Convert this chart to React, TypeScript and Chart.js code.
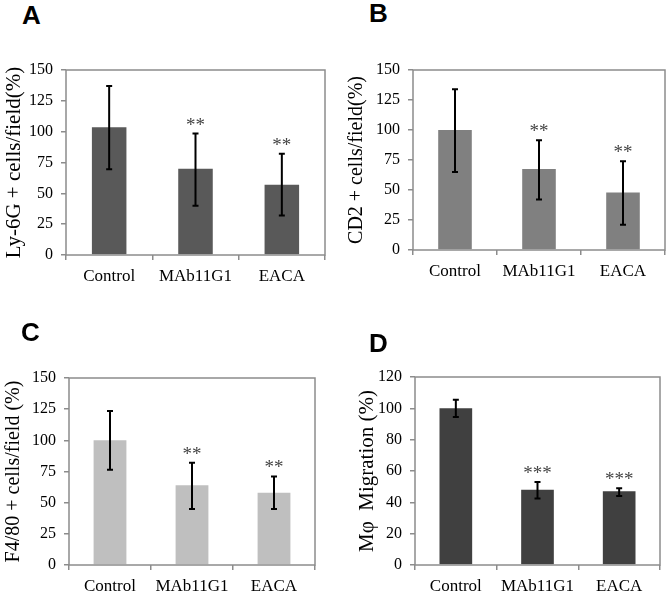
import React, { useEffect, useRef } from "react";
import { Chart, registerables } from "chart.js";
Chart.register(...registerables);

const categories = ["Control", "MAb11G1", "EACA"];

const valuesA = [103.5, 70, 57];
const lowA = [69.5, 40, 32];
const highA = [137, 98.5, 82];
const starsA = ["", "**", "**"];

const valuesB = [100, 67.5, 48];
const lowB = [65, 42, 21];
const highB = [134, 91.5, 74];
const starsB = ["", "**", "**"];

const valuesC = [100, 64, 58];
const lowC = [76.5, 45, 45];
const highC = [123.5, 82, 71];
const starsC = ["", "**", "**"];

const valuesD = [100, 48, 47];
const lowD = [94.5, 42.5, 44];
const highD = [105.5, 53, 49];
const starsD = ["", "***", "***"];

const SERIF = "'Liberation Serif', 'Times New Roman', serif";
const AXIS = "#8c8c8c";

const overlay = {
  id: "overlay",
  afterDatasetsDraw(chart: any, _args: any, opts: any) {
    const { ctx, chartArea, scales } = chart;
    const y = scales.y;
    ctx.save();
    ctx.strokeStyle = AXIS;
    ctx.lineWidth = 1.5;
    ctx.strokeRect(chartArea.left, chartArea.top, chartArea.width, chartArea.height);
    const meta = chart.getDatasetMeta(0);
    (opts.low as number[]).forEach((lo, i) => {
      const px = meta.data[i].x;
      const yl = y.getPixelForValue(lo);
      const yh = y.getPixelForValue(opts.high[i]);
      ctx.strokeStyle = "#000";
      ctx.lineWidth = 2;
      ctx.beginPath();
      ctx.moveTo(px, yl);
      ctx.lineTo(px, yh);
      ctx.moveTo(px - 3, yl);
      ctx.lineTo(px + 3, yl);
      ctx.moveTo(px - 3, yh);
      ctx.lineTo(px + 3, yh);
      ctx.stroke();
      const s = opts.stars[i];
      if (s) {
        ctx.fillStyle = "#444";
        ctx.font = `19px ${SERIF}`;
        ctx.textAlign = "center";
        ctx.textBaseline = "alphabetic";
        ctx.fillText(s, px, yh - 3);
      }
    });
    ctx.restore();
  },
};

type Panel = {
  letter: string;
  values: number[];
  low: number[];
  high: number[];
  stars: string[];
  color: string;
  title: string;
  titleSize: number;
  max: number;
  step: number;
  canvas: { left: number; top: number; w: number; h: number };
  area: { left: number; right: number; top: number; bottom: number };
  letterPos: { left: number; top: number };
};

const panels: Panel[] = [
  {
    letter: "A", values: valuesA, low: lowA, high: highA, stars: starsA, color: "#595959",
    title: "Ly-6G + cells/field(%)", titleSize: 21, max: 150, step: 25,
    canvas: { left: 0, top: 40, w: 335, h: 260 },
    area: { left: 66, right: 325, top: 70, bottom: 255 },
    letterPos: { left: 22, top: 2 },
  },
  {
    letter: "B", values: valuesB, low: lowB, high: highB, stars: starsB, color: "#808080",
    title: "CD2 + cells/field(%)", titleSize: 20, max: 150, step: 25,
    canvas: { left: 343, top: 40, w: 327, h: 255 },
    area: { left: 413, right: 665, top: 70, bottom: 250 },
    letterPos: { left: 369, top: 0 },
  },
  {
    letter: "C", values: valuesC, low: lowC, high: highC, stars: starsC, color: "#bfbfbf",
    title: "F4/80 + cells/field (%)", titleSize: 20, max: 150, step: 25,
    canvas: { left: 0, top: 345, w: 335, h: 249 },
    area: { left: 69, right: 315, top: 378, bottom: 565 },
    letterPos: { left: 21, top: 319 },
  },
  {
    letter: "D", values: valuesD, low: lowD, high: highD, stars: starsD, color: "#404040",
    title: "Mφ  Migration (%)", titleSize: 21, max: 120, step: 20,
    canvas: { left: 353, top: 345, w: 317, h: 249 },
    area: { left: 415, right: 660, top: 377, bottom: 565 },
    letterPos: { left: 369, top: 330 },
  },
];

function PanelChart({ p }: { p: Panel }) {
  const ref = useRef<HTMLCanvasElement>(null);
  useEffect(() => {
    const c = p.canvas;
    const a = p.area;
    const chart = new Chart(ref.current!, {
      type: "bar",
      data: {
        labels: categories,
        datasets: [
          {
            data: p.values,
            backgroundColor: p.color,
            borderWidth: 0,
            barPercentage: 0.4,
            categoryPercentage: 1,
          },
        ],
      },
      options: {
        responsive: false,
        animation: false,
        devicePixelRatio: 1,
        layout: {
          padding: { left: 0, top: a.top - c.top, right: c.left + c.w - a.right, bottom: 0 },
        },
        plugins: {
          legend: { display: false },
          tooltip: { enabled: false },
          overlay: { low: p.low, high: p.high, stars: p.stars },
        } as any,
        scales: {
          x: {
            grid: { display: true, drawOnChartArea: false, drawTicks: true, tickLength: 5, color: AXIS, lineWidth: 1.5 },
            border: { display: false },
            ticks: { color: "#000", font: { family: SERIF, size: 17 }, padding: 6 },
            afterFit: (s: any) => { s.height = c.top + c.h - a.bottom; },
          },
          y: {
            min: 0,
            max: p.max,
            ticks: { stepSize: p.step, color: "#000", font: { family: SERIF, size: 16 }, padding: 8 },
            grid: { display: true, drawOnChartArea: false, drawTicks: true, tickLength: 5, color: AXIS, lineWidth: 1.5 },
            border: { display: false },
            title: { display: true, text: p.title, color: "#000", font: { family: SERIF, size: p.titleSize }, padding: { top: 2, bottom: 0 } },
            afterFit: (s: any) => { s.width = a.left - c.left; },
          },
        },
      },
      plugins: [overlay],
    });
    return () => chart.destroy();
  }, [p]);
  return (
    <canvas
      ref={ref}
      width={p.canvas.w}
      height={p.canvas.h}
      style={{ position: "absolute", left: p.canvas.left, top: p.canvas.top, width: p.canvas.w, height: p.canvas.h }}
    />
  );
}

export default function App() {
  return (
    <div style={{ position: "fixed", left: 0, top: 0, width: 670, height: 594, background: "#fff", overflow: "hidden" }}>
      {panels.map((p) => (
        <React.Fragment key={p.letter}>
          <PanelChart p={p} />
          <div
            style={{
              position: "absolute",
              left: p.letterPos.left,
              top: p.letterPos.top,
              fontFamily: "'Liberation Sans', Arial, sans-serif",
              fontWeight: "bold",
              fontSize: 26,
              lineHeight: 1,
              color: "#000",
            }}
          >
            {p.letter}
          </div>
        </React.Fragment>
      ))}
    </div>
  );
}
